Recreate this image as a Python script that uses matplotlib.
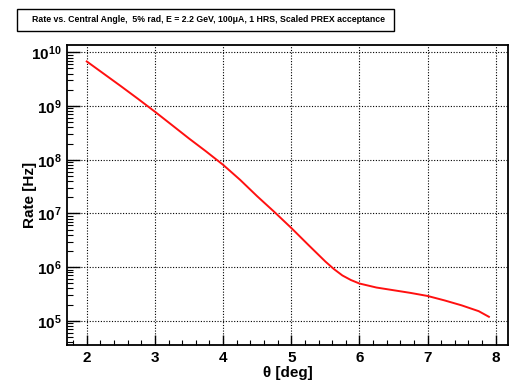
import numpy as np
import matplotlib
matplotlib.use('Agg')
import matplotlib.pyplot as plt
from matplotlib.ticker import LogLocator, MultipleLocator, FuncFormatter, NullFormatter
from matplotlib.patches import Rectangle

plt.rcParams['font.family'] = 'Liberation Sans'
plt.rcParams['mathtext.fontset'] = 'custom'
plt.rcParams['mathtext.rm'] = 'Liberation Sans:bold'
plt.rcParams['mathtext.bf'] = 'Liberation Sans:bold'
plt.rcParams['mathtext.it'] = 'Liberation Sans:bold'

#%% data (theta in deg, log10 of rate in Hz)
theta = [2.0, 2.25, 2.5, 2.75, 3.0, 3.25, 3.5, 3.75, 4.0, 4.25, 4.5, 4.75,
         5.0, 5.25, 5.375, 5.5, 5.625, 5.75, 5.875, 6.0, 6.25, 6.5, 6.75,
         7.0, 7.25, 7.5, 7.75, 7.9]
log_rate = [9.83, 9.60, 9.37, 9.135, 8.894, 8.645, 8.395, 8.155, 7.905, 7.625,
            7.32, 7.03, 6.73, 6.415, 6.26, 6.105, 5.965, 5.845, 5.76, 5.695,
            5.62, 5.57, 5.52, 5.463, 5.38, 5.288, 5.18, 5.075]
rate = [10 ** v for v in log_rate]

title = 'Rate vs. Central Angle,  5% rad, E = 2.2 GeV, 100\u03bcA, 1 HRS, Scaled PREX acceptance'

#%%
fig = plt.figure(figsize=(5.25, 3.82), dpi=100)
ax = fig.add_axes([67/525., 1 - 345/382., (508 - 67)/525., (345 - 45)/382.])

ax.plot(theta, rate, '-', color='#ff1010', lw=1.4, zorder=3)

ax.set_yscale('log')
ax.set_xlim(1.71, 8.18)
ax.set_ylim(10 ** 4.55, 10 ** 10.136)

ax.xaxis.set_major_locator(MultipleLocator(1))
ax.xaxis.set_minor_locator(MultipleLocator(0.2))
ax.yaxis.set_major_locator(LogLocator(base=10))
ax.yaxis.set_minor_locator(LogLocator(base=10, subs=np.arange(2, 10)))
ax.yaxis.set_minor_formatter(NullFormatter())
ax.yaxis.set_major_formatter(FuncFormatter(lambda v, p: r'$\mathbf{10^{%d}}$' % round(np.log10(v))))

ax.tick_params(axis='both', which='both', direction='in', top=False, right=False, color='black')
ax.tick_params(axis='y', which='major', length=9, width=1.0, labelsize=11, pad=4)
ax.tick_params(axis='y', which='minor', length=4.5, width=0.8)
ax.tick_params(axis='x', which='major', length=7, width=1.0, labelsize=11, pad=4)
ax.tick_params(axis='x', which='minor', length=3.5, width=0.8)
for lab in ax.get_xticklabels():
  lab.set_fontweight('bold')

ax.grid(True, which='major', color='black', linestyle=(0, (1, 1.5)), lw=0.8)
for s in ax.spines.values():
  s.set_linewidth(1.3)

ax.set_xlabel('\u03b8 [deg]', fontsize=11, fontweight='bold', labelpad=1)
ax.set_ylabel('Rate [Hz]', fontsize=11, fontweight='bold')
ax.yaxis.set_label_coords(-0.068, 0.5)

# title box
fig.patches.append(Rectangle((17/525., 1 - 31/382.), (394 - 17)/525., 22/382.,
                             transform=fig.transFigure, fill=False, ec='black', lw=1.0))
fig.text(208/525., 1 - 20/382., title, ha='center', va='center', fontsize=6.3, fontweight='bold')

plt.savefig('out.png', dpi=100)
